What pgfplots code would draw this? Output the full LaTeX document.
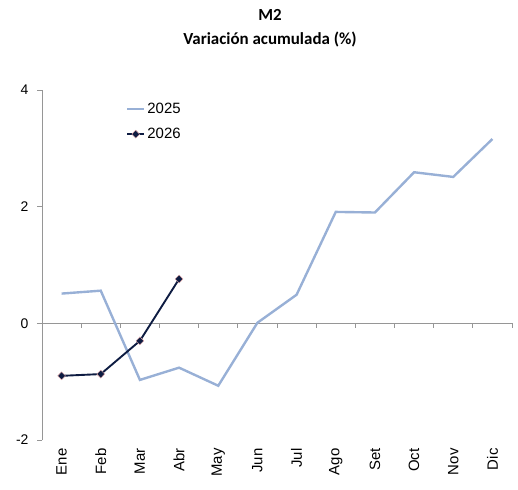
\documentclass[border=0pt]{standalone}
\usepackage{pgfplots}
\pgfplotsset{compat=1.18}
\usepackage{fontspec}
\setmainfont{Liberation Sans}
\newfontfamily\titlefont{Carlito}
\definecolor{c25}{RGB}{152,176,214}
\definecolor{c26}{RGB}{14,28,66}
\definecolor{axgray}{RGB}{150,150,150}
\begin{document}
\begin{tikzpicture}[x=1bp,y=1bp]
\useasboundingbox (-42bp,-50bp) rectangle (476bp,440bp);
\node[font=\titlefont\bfseries\fontsize{17}{19}\selectfont] at (228bp,425bp) {M2};
\node[font=\titlefont\bfseries\fontsize{17}{19}\selectfont] at (228bp,400bp) {Variación acumulada (\%)};
\begin{axis}[
  at={(0bp,0bp)}, anchor=south west,
  scale only axis, width=470bp, height=350bp,
  xmin=-0.5, xmax=11.5, ymin=-2, ymax=4,
  axis y line*=left, axis x line*=bottom,
  x axis line style={draw=none},
  y axis line style={draw=axgray, line width=0.8pt},
  ytick={-2,0,2,4},
  ytick style={draw=axgray, line width=0.8pt},
  tick align=outside, major tick length=5bp,
  xtick={0,...,11},
  xticklabels={Ene,Feb,Mar,Abr,May,Jun,Jul,Ago,Set,Oct,Nov,Dic},
  xtick style={draw=none},
  xticklabel style={rotate=90, anchor=east, font=\fontsize{15}{17}\selectfont},
  yticklabel style={font=\fontsize{14}{16}\selectfont, xshift=-5bp},
  /pgf/number format/assume math mode=true,
  clip=false,
  legend style={at={(0.172,0.974)}, anchor=north west, draw=none, fill=none,
    font=\fontsize{15}{17}\selectfont, row sep=9bp},
  legend cell align=left,
]
\draw[axgray, line width=0.8pt] ([xshift=-5bp]axis cs:-0.5,0) -- (axis cs:11.5,0);
\pgfplotsinvokeforeach{0.5,1.5,2.5,3.5,4.5,5.5,6.5,7.5,8.5,9.5,10.5,11.5}{
  \draw[axgray, line width=0.8pt] (axis cs:#1,0) -- ([yshift=-5bp]axis cs:#1,0);
}
\addplot[c25, line width=2.4pt] coordinates {
  (0,0.51) (1,0.56) (2,-0.97) (3,-0.76) (4,-1.07) (5,0.01)
  (6,0.49) (7,1.91) (8,1.90) (9,2.59) (10,2.51) (11,3.16)
};
\addlegendentry{2025}
\addplot[c26, line width=1.9pt, mark=diamond*, mark size=4pt,
  mark options={xscale=1.3, fill=c26, draw={rgb,255:red,230;green,170;blue,170}, line width=0.4pt}] coordinates {
  (0,-0.90) (1,-0.87) (2,-0.30) (3,0.76)
};
\addlegendentry{2026}
\end{axis}
\end{tikzpicture}
\end{document}
